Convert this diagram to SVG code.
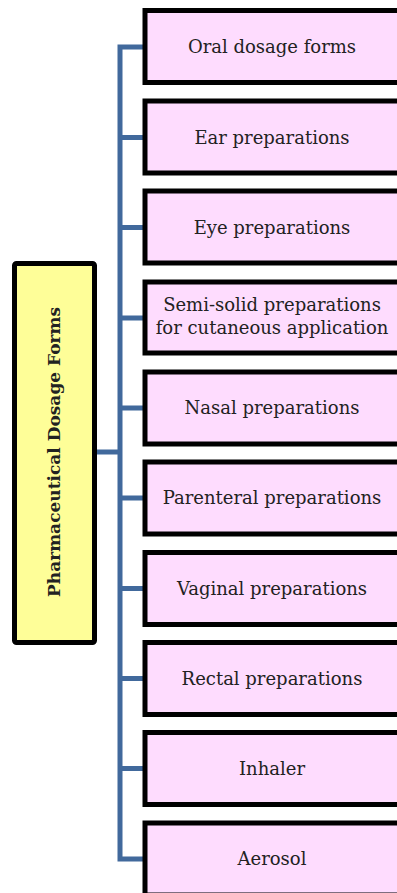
<svg xmlns="http://www.w3.org/2000/svg" width="397" height="893" viewBox="0 0 397 893">
<style>
.box{fill:#fedcfe;stroke:#000;stroke-width:5}
.root{fill:#fefe98;stroke:#000;stroke-width:5}
.t{font-family:"DejaVu Serif","Liberation Serif",serif;font-size:18px;fill:#222;text-anchor:middle}
.c{fill:none;stroke:#41699c;stroke-width:5}
</style>
<rect width="397" height="893" fill="#fff"/>
<g id="connectors">
<path class="c" d="M143 47H120V859H143"/>
<path class="c" d="M97 452H120"/>
<path class="c" d="M120 137.5H143M120 227.5H143M120 318H143M120 408H143M120 498H143M120 588.5H143M120 678.5H143M120 768.5H143"/>
</g>
<g id="root">
<rect class="root" x="14.5" y="263.5" width="80" height="379" rx="2"/>
<text class="t" transform="translate(60,452) rotate(-90)" font-weight="bold" style="font-size:17px">Pharmaceutical Dosage Forms</text>
</g>
<g id="n1"><rect class="box" x="145" y="10.5" width="260" height="72"/><text class="t" x="272" y="53">Oral dosage forms</text></g>
<g id="n2"><rect class="box" x="145" y="101" width="260" height="72"/><text class="t" x="272" y="143.5">Ear preparations</text></g>
<g id="n3"><rect class="box" x="145" y="191" width="260" height="72"/><text class="t" x="272" y="233.5">Eye preparations</text></g>
<g id="n4"><rect class="box" x="145" y="282" width="260" height="71"/><text class="t" x="272" y="311">Semi-solid preparations</text><text class="t" x="272" y="334">for cutaneous application</text></g>
<g id="n5"><rect class="box" x="145" y="372" width="260" height="72"/><text class="t" x="272" y="414">Nasal preparations</text></g>
<g id="n6"><rect class="box" x="145" y="462" width="260" height="72"/><text class="t" x="272" y="504">Parenteral preparations</text></g>
<g id="n7"><rect class="box" x="145" y="552.5" width="260" height="72"/><text class="t" x="272" y="594.5">Vaginal  preparations</text></g>
<g id="n8"><rect class="box" x="145" y="642.5" width="260" height="72"/><text class="t" x="272" y="684.5">Rectal preparations</text></g>
<g id="n9"><rect class="box" x="145" y="732.5" width="260" height="72"/><text class="t" x="272" y="774.5">Inhaler</text></g>
<g id="n10"><rect class="box" x="145" y="823" width="260" height="72"/><text class="t" x="272" y="865">Aerosol</text></g>
</svg>
